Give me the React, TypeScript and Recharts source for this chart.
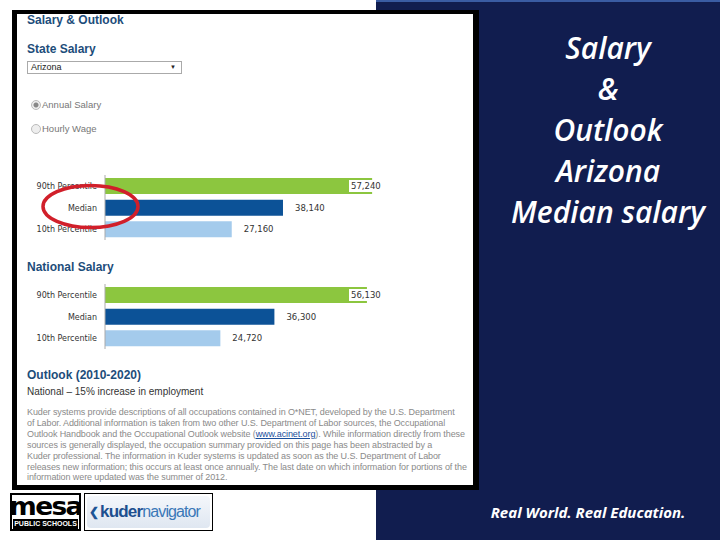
import { BarChart, Bar, XAxis, YAxis, Cell, LabelList } from 'recharts';

const categories = ['90th Percentile', 'Median', '10th Percentile'];
const stateValues = [57240, 38140, 27160];
const nationalValues = [56130, 36300, 24720];
const barColors = ['#8cc63f', '#0c5297', '#a4cbec'];
const salaryDomain = [0, 60000];

const titleLines = ['Salary', '&', 'Outlook', 'Arizona', 'Median salary'];

const disclaimerLines = [
  'Kuder systems provide descriptions of all occupations contained in O*NET, developed by the U.S. Department',
  'of Labor. Additional information is taken from two other U.S. Department of Labor sources, the Occupational',
  'Outlook Handbook and the Occupational Outlook website (www.acinet.org). While information directly from these',
  'sources is generally displayed, the occupation summary provided on this page has been abstracted by a',
  'Kuder professional. The information in Kuder systems is updated as soon as the U.S. Department of Labor',
  'releases new information; this occurs at least once annually. The last date on which information for portions of the',
  'information were updated was the summer of 2012.',
];

const heading = {
  position: 'absolute' as const,
  left: 27,
  fontFamily: '"Liberation Sans", Arial, sans-serif',
  fontWeight: 700,
  fontSize: 12,
  color: '#1d4d7a',
  whiteSpace: 'nowrap' as const,
};

const verdana = '"DejaVu Sans", Verdana, sans-serif';
// right edge (chart coords) that value labels may not pass
const LABEL_LIMIT = 364;

function valueLabel(props: any) {
  const x = Number(props.x);
  const y = Number(props.y);
  const width = Number(props.width);
  const height = Number(props.height);
  const end = x + width;
  const labelW = 33;
  const tx = Math.min(end + 12, LABEL_LIMIT - labelW);
  const over = tx < end;
  return (
    <g>
      {over && <rect x={tx - 2} y={y + 2} width={labelW + 1} height={height - 4} fill="#fff" />}
      <text x={tx} y={y + height / 2 + 3} fontSize={8.5} fill="#333" fontFamily={verdana}>
        {Number(props.value).toLocaleString('en-US')}
      </text>
    </g>
  );
}

function catTick(props: any) {
  const { x, y, payload } = props;
  return (
    <text x={x} y={y} dy={3} textAnchor="end" fontSize={8} fill="#333" fontFamily={verdana}>
      {payload.value}
    </text>
  );
}

function SalaryChart({ values, top }: { values: number[]; top: number }) {
  const data = categories.map((c, i) => ({ name: c, value: values[i] }));
  return (
    <div style={{ position: 'absolute', left: 20, top }}>
      <BarChart width={380} height={71} data={data} layout="vertical"
        margin={{ top: 3, right: 15, bottom: 3, left: 0 }} barSize={16}>
        <XAxis type="number" domain={salaryDomain} hide />
        <YAxis type="category" dataKey="name" width={85} axisLine={{ stroke: '#aaa' }} tickLine={false}
          interval={0} tick={catTick} />
        <Bar dataKey="value" isAnimationActive={false}>
          {data.map((d, i) => <Cell key={d.name} fill={barColors[i]} />)}
          <LabelList dataKey="value" content={valueLabel} />
        </Bar>
      </BarChart>
    </div>
  );
}

function Radio({ top, label, checked }: { top: number; label: string; checked?: boolean }) {
  return (
    <div style={{ position: 'absolute', left: 31, top, display: 'flex', alignItems: 'center',
      fontFamily: '"Liberation Sans", Arial, sans-serif', fontSize: 9.5, color: '#777' }}>
      <span style={{ width: 8, height: 8, borderRadius: '50%', border: '1px solid #bbb',
        background: checked ? 'radial-gradient(circle, #888 0 2px, #eee 3px)' : '#eee', marginRight: 1 }} />
      {label}
    </div>
  );
}

export default function App() {
  return (
    <div style={{ position: 'absolute', left: 0, top: 0, width: 720, height: 540, background: '#fff', overflow: 'hidden' }}>
      {/* navy side panel */}
      <div style={{ position: 'absolute', left: 376, top: 0, width: 344, height: 540, background: '#111d4f',
        borderTop: '2px solid #3a5ca3', boxSizing: 'border-box' }} />
      <div style={{ position: 'absolute', left: 496, top: 27, width: 224, textAlign: 'center', color: '#fff',
        fontFamily: '"Open Sans", sans-serif', fontStyle: 'italic', fontWeight: 600, fontSize: 30, lineHeight: '41px' }}>
        {titleLines.map((l) => <div key={l}>{l}</div>)}
      </div>
      <div style={{ position: 'absolute', left: 476, top: 502, width: 224, textAlign: 'center', color: '#fff',
        fontFamily: '"Open Sans", sans-serif', fontStyle: 'italic', fontWeight: 700, fontSize: 15, whiteSpace: 'nowrap' }}>
        Real World. Real Education.
      </div>

      {/* screenshot frame */}
      <div style={{ position: 'absolute', left: 12, top: 10, width: 467, height: 480, background: '#fff',
        borderStyle: 'solid', borderColor: '#000', borderWidth: '4px 6px 5px 5px', boxSizing: 'border-box' }} />

      <div style={{ ...heading, top: 13 }}>Salary &amp; Outlook</div>
      <div style={{ ...heading, top: 42 }}>State Salary</div>
      <div style={{ position: 'absolute', left: 27, top: 61, width: 155, height: 13, border: '1px solid #aaa',
        boxSizing: 'border-box', fontFamily: '"Liberation Sans", Arial, sans-serif', fontSize: 9, color: '#222',
        paddingLeft: 3, lineHeight: '11px' }}>
        Arizona
        <span style={{ position: 'absolute', right: 5, top: 0, fontSize: 6 }}>▼</span>
      </div>
      <Radio top={99} label="Annual Salary" checked />
      <Radio top={123} label="Hourly Wage" />

      <SalaryChart values={stateValues} top={172} />

      <div style={{ ...heading, top: 260 }}>National Salary</div>
      <SalaryChart values={nationalValues} top={281} />

      <div style={{ ...heading, top: 368 }}>Outlook (2010-2020)</div>
      <div style={{ position: 'absolute', left: 27, top: 386, fontFamily: '"Liberation Sans", Arial, sans-serif',
        fontSize: 10, color: '#333', whiteSpace: 'nowrap' }}>
        National – 15% increase in employment
      </div>
      <div style={{ position: 'absolute', left: 27, top: 407, fontFamily: '"Liberation Sans", Arial, sans-serif',
        fontSize: 9, color: '#8a8a8a', lineHeight: '10.9px', whiteSpace: 'nowrap', letterSpacing: -0.1 }}>
        {disclaimerLines.map((l, i) => (
          <div key={i}>
            {l.includes('(www.acinet.org)') ? (
              <>
                {l.split('(www.acinet.org)')[0]}(
                <span style={{ color: '#1a4f9c', textDecoration: 'underline' }}>www.acinet.org</span>)
                {l.split('(www.acinet.org)')[1]}
              </>
            ) : l}
          </div>
        ))}
      </div>

      {/* red highlight */}
      <svg width={720} height={540} style={{ position: 'absolute', left: 0, top: 0, pointerEvents: 'none' }}>
        <ellipse cx={90.5} cy={206.5} rx={47.5} ry={21} fill="none" stroke="#d11f2a" strokeWidth={3.5} />
      </svg>

      {/* logos */}
      <div style={{ position: 'absolute', left: 10, top: 493, width: 71, height: 38, border: '2px solid #000',
        boxSizing: 'border-box', background: '#fff', textAlign: 'center', overflow: 'hidden' }}>
        <div style={{ fontFamily: '"DejaVu Sans", sans-serif', fontWeight: 700, fontSize: 24, lineHeight: '24px',
          letterSpacing: -1.5, color: '#000', transform: 'scaleX(1.1)' }}>mesa</div>
        <div style={{ background: '#000', color: '#fff', fontFamily: '"Liberation Sans", Arial, sans-serif',
          fontWeight: 700, fontSize: 7, lineHeight: '10px', margin: '0 1px' }}>PUBLIC SCHOOLS</div>
      </div>
      <div style={{ position: 'absolute', left: 84, top: 493, width: 129, height: 38, border: '1px solid #000',
        boxSizing: 'border-box', background: '#fff', padding: 2 }}>
        <div style={{ height: '100%', borderRadius: 4, background: 'linear-gradient(#f4f7fb, #dfe7f1)',
          display: 'flex', alignItems: 'center', paddingLeft: 2, fontFamily: '"Liberation Sans", Arial, sans-serif',
          color: '#2a64a8', whiteSpace: 'nowrap' }}>
          <span style={{ fontWeight: 700, color: '#1d5596', fontSize: 12, marginRight: 1 }}>❮</span>
          <span style={{ fontWeight: 700, color: '#1d4f8f', fontSize: 17, letterSpacing: -0.8 }}>kuder</span>
          <span style={{ fontSize: 16, letterSpacing: -0.9, color: '#3a78b8' }}>navigator</span>
        </div>
      </div>
    </div>
  );
}
